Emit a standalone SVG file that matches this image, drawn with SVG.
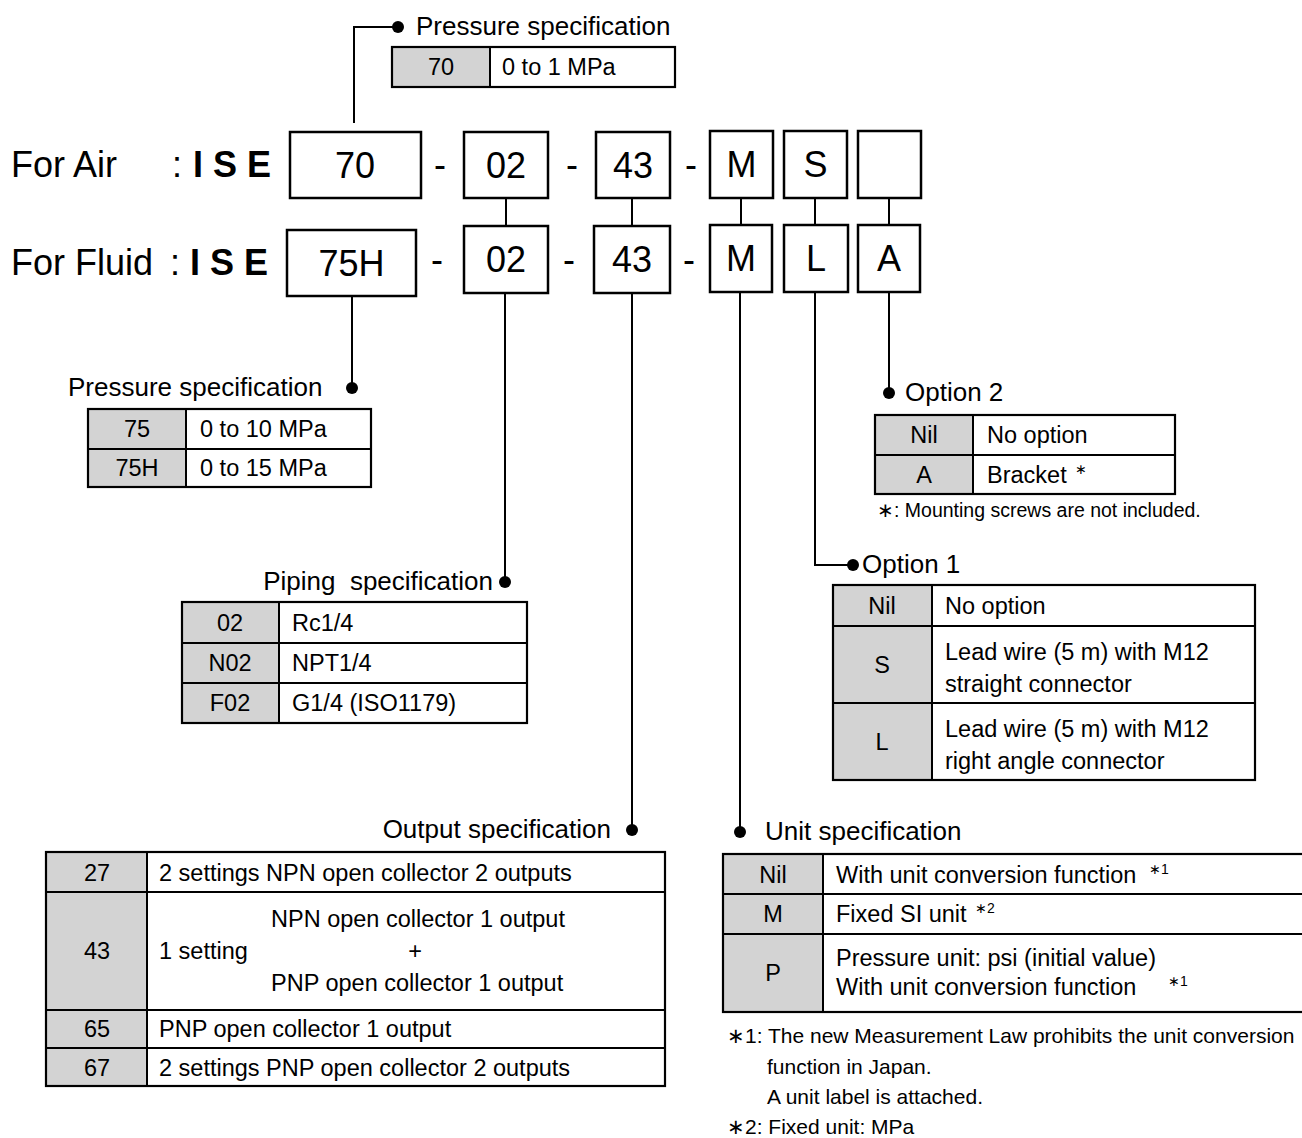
<svg xmlns="http://www.w3.org/2000/svg" width="1302" height="1138" viewBox="0 0 1302 1138">
<style>
text { font-family: "Liberation Sans", Arial, sans-serif; fill: #000; }
.big { font-size: 36px; }
.bold { font-weight: bold; }
.lbl { font-size: 26px; }
.cell { font-size: 23.5px; }
.fn { font-size: 21px; }
.sup { font-size: 14px; }
.mid { text-anchor: middle; }
.end { text-anchor: end; }
.box { fill: #fff; stroke: #000; stroke-width: 2.5; }
.tbl { fill: none; stroke: #000; stroke-width: 2.2; }
.key { fill: #d3d3d3; stroke: none; }
.ln { stroke: #000; stroke-width: 2; fill: none; }
.dot { fill: #000; }
</style>
<rect width="1302" height="1138" fill="#fff"/>

<!-- Model rows -->
<g id="row-air">
  <text class="big" x="11" y="177">For Air</text>
  <text class="big" x="172" y="177">:</text>
  <text class="big bold" x="193" y="177">I S E</text>
  <text class="big mid" x="440" y="177">-</text>
  <text class="big mid" x="572" y="177">-</text>
  <text class="big mid" x="691" y="177">-</text>
</g>
<g id="row-fluid">
  <text class="big" x="11" y="275">For Fluid</text>
  <text class="big" x="170" y="275">:</text>
  <text class="big bold" x="190" y="275">I S E</text>
  <text class="big mid" x="437" y="272">-</text>
  <text class="big mid" x="569" y="272">-</text>
  <text class="big mid" x="689" y="272">-</text>
</g>

<g id="box-air-70"><rect class="box" x="290" y="132" width="131" height="66"/><text class="big mid" x="355" y="178">70</text></g>
<g id="box-air-02"><rect class="box" x="464" y="132" width="84" height="66"/><text class="big mid" x="506" y="178">02</text></g>
<g id="box-air-43"><rect class="box" x="596" y="132" width="74" height="66"/><text class="big mid" x="633" y="178">43</text></g>
<g id="box-air-M"><rect class="box" x="710" y="131" width="63" height="67"/><text class="big mid" x="741.5" y="177">M</text></g>
<g id="box-air-S"><rect class="box" x="784" y="131" width="63" height="67"/><text class="big mid" x="815.5" y="177">S</text></g>
<g id="box-air-blank"><rect class="box" x="858" y="131" width="63" height="67"/></g>

<g id="box-fluid-75H"><rect class="box" x="287" y="230" width="129" height="66"/><text class="big mid" x="351.5" y="276">75H</text></g>
<g id="box-fluid-02"><rect class="box" x="464" y="226" width="84" height="67"/><text class="big mid" x="506" y="272">02</text></g>
<g id="box-fluid-43"><rect class="box" x="594" y="226" width="76" height="67"/><text class="big mid" x="632" y="272">43</text></g>
<g id="box-fluid-M"><rect class="box" x="710" y="225" width="62" height="67"/><text class="big mid" x="741" y="271">M</text></g>
<g id="box-fluid-L"><rect class="box" x="784" y="225" width="64" height="67"/><text class="big mid" x="816" y="271">L</text></g>
<g id="box-fluid-A"><rect class="box" x="858" y="225" width="62" height="67"/><text class="big mid" x="889" y="271">A</text></g>

<!-- Connectors -->
<g id="connectors">
  <polyline class="ln" points="354,123 354,27 398,27"/>
  <circle class="dot" cx="398" cy="27" r="6"/>
  <line class="ln" x1="506" y1="198" x2="506" y2="226"/>
  <line class="ln" x1="632" y1="198" x2="632" y2="226"/>
  <line class="ln" x1="741" y1="198" x2="741" y2="225"/>
  <line class="ln" x1="815" y1="198" x2="815" y2="225"/>
  <line class="ln" x1="889" y1="198" x2="889" y2="225"/>
  <line class="ln" x1="352" y1="296" x2="352" y2="388"/>
  <circle class="dot" cx="352" cy="388" r="6"/>
  <line class="ln" x1="505" y1="293" x2="505" y2="582"/>
  <circle class="dot" cx="505" cy="582" r="6"/>
  <line class="ln" x1="632" y1="293" x2="632" y2="830"/>
  <circle class="dot" cx="632" cy="830" r="6"/>
  <line class="ln" x1="740" y1="292" x2="740" y2="832"/>
  <circle class="dot" cx="740" cy="832" r="6"/>
  <polyline class="ln" points="815,292 815,565 853,565"/>
  <circle class="dot" cx="853" cy="565" r="6"/>
  <line class="ln" x1="889" y1="292" x2="889" y2="393"/>
  <circle class="dot" cx="889" cy="393" r="6"/>
</g>

<!-- Air pressure specification -->
<g id="air-pressure-spec">
  <text class="lbl" x="416" y="35">Pressure specification</text>
  <rect class="key" x="392" y="47" width="98" height="40"/>
  <rect class="tbl" x="392" y="47" width="283" height="40"/>
  <line class="ln" x1="490" y1="47" x2="490" y2="87"/>
  <text class="cell mid" x="441" y="75">70</text>
  <text class="cell" x="502" y="75">0 to 1 MPa</text>
</g>

<!-- Fluid pressure specification -->
<g id="fluid-pressure-spec">
  <text class="lbl" x="68" y="396">Pressure specification</text>
  <rect class="key" x="88" y="409" width="98" height="78"/>
  <rect class="tbl" x="88" y="409" width="283" height="78"/>
  <line class="ln" x1="186" y1="409" x2="186" y2="487"/>
  <line class="ln" x1="88" y1="449" x2="371" y2="449"/>
  <text class="cell mid" x="137" y="437">75</text>
  <text class="cell" x="200" y="437">0 to 10 MPa</text>
  <text class="cell mid" x="137" y="476">75H</text>
  <text class="cell" x="200" y="476">0 to 15 MPa</text>
</g>

<!-- Piping specification -->
<g id="piping-spec">
  <text class="lbl end" x="493" y="590">Piping&#160; specification</text>
  <rect class="key" x="182" y="602" width="97" height="121"/>
  <rect class="tbl" x="182" y="602" width="345" height="121"/>
  <line class="ln" x1="279" y1="602" x2="279" y2="723"/>
  <line class="ln" x1="182" y1="643" x2="527" y2="643"/>
  <line class="ln" x1="182" y1="683" x2="527" y2="683"/>
  <text class="cell mid" x="230" y="631">02</text>
  <text class="cell" x="292" y="631">Rc1/4</text>
  <text class="cell mid" x="230" y="671">N02</text>
  <text class="cell" x="292" y="671">NPT1/4</text>
  <text class="cell mid" x="230" y="711">F02</text>
  <text class="cell" x="292" y="711">G1/4 (ISO1179)</text>
</g>

<!-- Option 2 -->
<g id="option2">
  <text class="lbl" x="905" y="401">Option 2</text>
  <rect class="key" x="875" y="415" width="98" height="79"/>
  <rect class="tbl" x="875" y="415" width="300" height="79"/>
  <line class="ln" x1="973" y1="415" x2="973" y2="494"/>
  <line class="ln" x1="875" y1="455" x2="1175" y2="455"/>
  <text class="cell mid" x="924" y="443">Nil</text>
  <text class="cell" x="987" y="443">No option</text>
  <text class="cell mid" x="924" y="483">A</text>
  <text class="cell" x="987" y="483">Bracket</text>
  <text class="sup" x="1075" y="474">∗</text>
  <text class="fn" x="877" y="517" style="font-size:19.5px">∗: Mounting screws are not included.</text>
</g>

<!-- Option 1 -->
<g id="option1">
  <text class="lbl" x="862" y="573">Option 1</text>
  <rect class="key" x="833" y="585" width="99" height="195"/>
  <rect class="tbl" x="833" y="585" width="422" height="195"/>
  <line class="ln" x1="932" y1="585" x2="932" y2="780"/>
  <line class="ln" x1="833" y1="626" x2="1255" y2="626"/>
  <line class="ln" x1="833" y1="703" x2="1255" y2="703"/>
  <text class="cell mid" x="882" y="614">Nil</text>
  <text class="cell" x="945" y="614">No option</text>
  <text class="cell mid" x="882" y="673">S</text>
  <text class="cell" x="945" y="660">Lead wire (5 m) with M12</text>
  <text class="cell" x="945" y="692">straight connector</text>
  <text class="cell mid" x="882" y="750">L</text>
  <text class="cell" x="945" y="737">Lead wire (5 m) with M12</text>
  <text class="cell" x="945" y="769">right angle connector</text>
</g>

<!-- Output specification -->
<g id="output-spec">
  <text class="lbl end" x="611" y="838">Output specification</text>
  <rect class="key" x="46" y="852" width="101" height="234"/>
  <rect class="tbl" x="46" y="852" width="619" height="234"/>
  <line class="ln" x1="147" y1="852" x2="147" y2="1086"/>
  <line class="ln" x1="46" y1="892" x2="665" y2="892"/>
  <line class="ln" x1="46" y1="1010" x2="665" y2="1010"/>
  <line class="ln" x1="46" y1="1048" x2="665" y2="1048"/>
  <text class="cell mid" x="97" y="881">27</text>
  <text class="cell" x="159" y="881">2 settings NPN open collector 2 outputs</text>
  <text class="cell mid" x="97" y="959">43</text>
  <text class="cell" x="159" y="959">1 setting</text>
  <text class="cell" x="271" y="927">NPN open collector 1 output</text>
  <text class="cell mid" x="415" y="959">+</text>
  <text class="cell" x="271" y="991">PNP open collector 1 output</text>
  <text class="cell mid" x="97" y="1037">65</text>
  <text class="cell" x="159" y="1037">PNP open collector 1 output</text>
  <text class="cell mid" x="97" y="1076">67</text>
  <text class="cell" x="159" y="1076">2 settings PNP open collector 2 outputs</text>
</g>

<!-- Unit specification -->
<g id="unit-spec">
  <text class="lbl" x="765" y="840">Unit specification</text>
  <rect class="key" x="723" y="854" width="100" height="158"/>
  <rect class="tbl" x="723" y="854" width="584" height="158"/>
  <line class="ln" x1="823" y1="854" x2="823" y2="1012"/>
  <line class="ln" x1="723" y1="894" x2="1307" y2="894"/>
  <line class="ln" x1="723" y1="934" x2="1307" y2="934"/>
  <text class="cell mid" x="773" y="883">Nil</text>
  <text class="cell" x="836" y="883">With unit conversion function</text>
  <text class="sup" x="1149" y="874">∗1</text>
  <text class="cell mid" x="773" y="922">M</text>
  <text class="cell" x="836" y="922">Fixed SI unit</text>
  <text class="sup" x="975" y="913">∗2</text>
  <text class="cell mid" x="773" y="981">P</text>
  <text class="cell" x="836" y="966">Pressure unit: psi (initial value)</text>
  <text class="cell" x="836" y="995">With unit conversion function</text>
  <text class="sup" x="1168" y="986">∗1</text>
  <text class="fn" x="727" y="1043">∗1: The new Measurement Law prohibits the unit conversion</text>
  <text class="fn" x="767" y="1074">function in Japan.</text>
  <text class="fn" x="767" y="1104">A unit label is attached.</text>
  <text class="fn" x="727" y="1134">∗2: Fixed unit: MPa</text>
</g>
</svg>
